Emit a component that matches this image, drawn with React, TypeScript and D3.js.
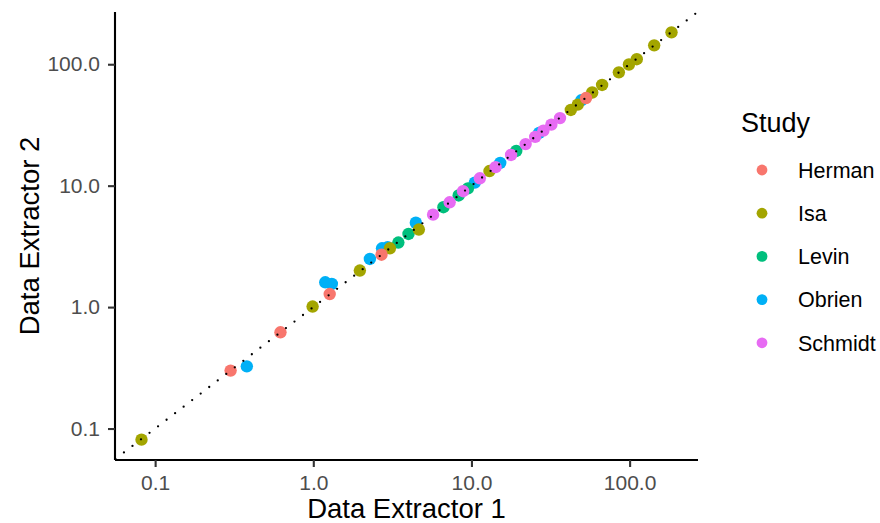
import React, { useEffect, useRef } from "react";
import * as d3 from "d3";

// values (extractor 1 = x, extractor 2 = y)
const studies = ["Herman", "Isa", "Levin", "Obrien", "Schmidt"];
const studyColors = ["#F8766D", "#A3A500", "#00BF7D", "#00B0F6", "#E76BF3"];

const hermanE1 = [0.3, 0.62, 1.27, 2.7, 53.0];
const hermanE2 = [0.3, 0.62, 1.28, 2.7, 52.7];
const isaE1 = [0.082, 0.99, 1.97, 3.05, 4.65, 13.0, 42.5, 47.0, 58.0, 67.0, 85.5, 99.0, 111, 143, 184];
const isaE2 = [0.081, 1.01, 2.0, 3.05, 4.35, 13.2, 42.0, 46.5, 58.5, 67.5, 85.7, 99.5, 110, 143, 183];
const levinE1 = [3.45, 4.0, 6.65, 8.3, 9.5, 19.2];
const levinE2 = [3.4, 4.0, 6.65, 8.3, 9.5, 19.3];
const obrienE1 = [0.38, 1.19, 1.31, 2.28, 2.72, 2.95, 4.45, 10.5, 15.2, 26.8, 49.5];
const obrienE2 = [0.325, 1.6, 1.55, 2.49, 3.05, 3.12, 4.95, 10.6, 15.4, 27.2, 50.5];
const schmidtE1 = [5.72, 7.28, 8.85, 11.3, 14.2, 17.8, 22.0, 25.3, 28.5, 32.0, 36.3];
const schmidtE2 = [5.77, 7.3, 9.0, 11.5, 14.2, 17.9, 22.0, 25.2, 28.4, 31.8, 36.0];

const tickValues = [0.1, 1, 10, 100];

const seriesE1: Record<string, number[]> = {
  Herman: hermanE1, Isa: isaE1, Levin: levinE1, Obrien: obrienE1, Schmidt: schmidtE1,
};
const seriesE2: Record<string, number[]> = {
  Herman: hermanE2, Isa: isaE2, Levin: levinE2, Obrien: obrienE2, Schmidt: schmidtE2,
};
// drawing order (later on top)
const drawOrder = ["Obrien", "Levin", "Isa", "Herman", "Schmidt"];

// ggplot-like 5% expansion on log scale
function logDomain(values: number[]): [number, number] {
  const lo = Math.log10(d3.min(values)!);
  const hi = Math.log10(d3.max(values)!);
  const pad = (hi - lo) * 0.05;
  return [Math.pow(10, lo - pad), Math.pow(10, hi + pad)];
}

export default function App() {
  const ref = useRef<SVGSVGElement>(null);

  useEffect(() => {
    const width = 880, height = 523;
    const margin = { top: 12, right: 182, bottom: 63, left: 115 };
    const font = "'Liberation Sans', Arial, Helvetica, sans-serif";

    const svg = d3.select(ref.current);
    svg.selectAll("*").remove();
    svg.attr("width", width).attr("height", height);

    const rows = drawOrder.flatMap(s =>
      seriesE1[s].map((v, i) => ({ study: s, e1: v, e2: seriesE2[s][i] }))
    );

    const x = d3.scaleLog()
      .domain(logDomain(rows.map(d => d.e1)))
      .range([margin.left, width - margin.right]);
    const y = d3.scaleLog()
      .domain(logDomain(rows.map(d => d.e2)))
      .range([height - margin.bottom, margin.top]);
    const color = d3.scaleOrdinal<string>().domain(studies).range(studyColors);

    svg.append("rect").attr("width", width).attr("height", height).attr("fill", "white");

    svg.append("defs").append("clipPath").attr("id", "panel")
      .append("rect")
      .attr("x", margin.left).attr("y", margin.top)
      .attr("width", width - margin.left - margin.right)
      .attr("height", height - margin.top - margin.bottom);

    const panel = svg.append("g").attr("clip-path", "url(#panel)");

    panel.selectAll("circle")
      .data(rows)
      .enter()
      .append("circle")
      .attr("cx", d => x(d.e1))
      .attr("cy", d => y(d.e2))
      .attr("r", 6.2)
      .attr("fill", d => color(d.study));

    // identity line y = x, dotted
    const lo = Math.min(x.domain()[0], y.domain()[0]) * 0.9;
    const hi = Math.max(x.domain()[1], y.domain()[1]) * 1.1;
    panel.append("line")
      .attr("x1", x(lo)).attr("y1", y(lo))
      .attr("x2", x(hi)).attr("y2", y(hi))
      .attr("stroke", "black")
      .attr("stroke-width", 2.3)
      .attr("stroke-linecap", "round")
      .attr("stroke-dasharray", "0 10.75");

    const fmt = d3.format(".1f");

    const xAxis = svg.append("g")
      .attr("transform", `translate(0,${height - margin.bottom})`)
      .call(d3.axisBottom(x).tickValues(tickValues).tickFormat(d => fmt(+d)).tickSize(7).tickPadding(8));
    const yAxis = svg.append("g")
      .attr("transform", `translate(${margin.left},0)`)
      .call(d3.axisLeft(y).tickValues(tickValues).tickFormat(d => fmt(+d)).tickSize(7).tickPadding(8));

    [xAxis, yAxis].forEach(g => {
      g.select(".domain").attr("stroke", "black").attr("stroke-width", 2.1);
      g.selectAll(".tick line").attr("stroke", "#333333").attr("stroke-width", 2.1);
      g.selectAll(".tick text")
        .attr("fill", "#4D4D4D")
        .style("font-family", font)
        .style("font-size", "21px");
    });
    // domain path without outer ticks
    xAxis.select(".domain").attr("d", `M${margin.left},0H${width - margin.right}`);
    yAxis.select(".domain").attr("d", `M0,${margin.top}V${height - margin.bottom}`);

    svg.append("text")
      .attr("x", (margin.left + width - margin.right) / 2)
      .attr("y", 518)
      .attr("text-anchor", "middle")
      .style("font-family", font)
      .style("font-size", "27.5px")
      .text("Data Extractor 1");

    svg.append("text")
      .attr("transform", `translate(39,${(margin.top + height - margin.bottom) / 2}) rotate(-90)`)
      .attr("text-anchor", "middle")
      .style("font-family", font)
      .style("font-size", "27.5px")
      .text("Data Extractor 2");

    // legend
    const legend = svg.append("g");
    legend.append("text")
      .attr("x", 741).attr("y", 132)
      .style("font-family", font)
      .style("font-size", "27px")
      .text("Study");

    const items = legend.selectAll("g.item")
      .data(studies)
      .enter()
      .append("g")
      .attr("class", "item")
      .attr("transform", (d, i) => `translate(0,${170 + i * 43.2})`);
    items.append("circle")
      .attr("cx", 762).attr("cy", 0).attr("r", 5.4)
      .attr("fill", d => color(d));
    items.append("text")
      .attr("x", 798).attr("y", 0).attr("dy", "0.36em")
      .style("font-family", font)
      .style("font-size", "21.5px")
      .attr("fill", "black")
      .text(d => d);
  }, []);

  return (
    <svg ref={ref} style={{ position: "absolute", left: 0, top: 0 }}></svg>
  );
}
